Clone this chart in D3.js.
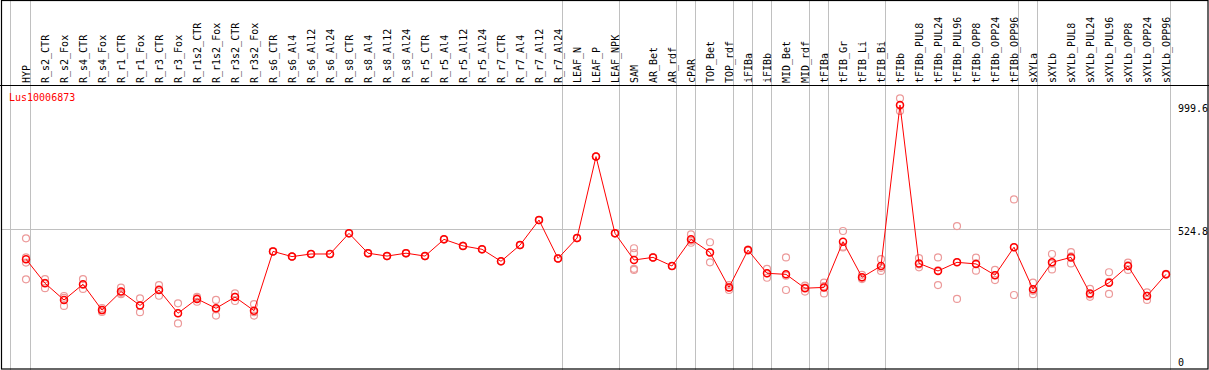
<!DOCTYPE html>
<html><head><meta charset="utf-8">
<script src="https://cdn.jsdelivr.net/npm/d3@7"></script>
<style>
html,body{margin:0;padding:0;background:#fff;}
svg{display:block;}
text{font-family:"DejaVu Sans Mono",monospace;font-size:10px;}
</style></head>
<body>
<svg id="chart" width="1209" height="370"></svg>
<script>
const title = "Lus10006873";
const categories = ["HYP","R_s2_CTR","R_s2_Fox","R_s4_CTR","R_s4_Fox","R_r1_CTR","R_r1_Fox","R_r3_CTR","R_r3_Fox","R_r1s2_CTR","R_r1s2_Fox","R_r3s2_CTR","R_r3s2_Fox","R_s6_CTR","R_s6_Al4","R_s6_Al12","R_s6_Al24","R_s8_CTR","R_s8_Al4","R_s8_Al12","R_s8_Al24","R_r5_CTR","R_r5_Al4","R_r5_Al12","R_r5_Al24","R_r7_CTR","R_r7_Al4","R_r7_Al12","R_r7_Al24","LEAF_N","LEAF_P","LEAF_NPK","SAM","AR_Bet","AR_rdf","cPAR","TOP_Bet","TOP_rdf","iFIBa","iFIBb","MID_Bet","MID_rdf","tFIBa","tFIB_Gr","tFIB_Li","tFIB_Bi","tFIBb","tFIBb_PUL8","tFIBb_PUL24","tFIBb_PUL96","tFIBb_OPP8","tFIBb_OPP24","tFIBb_OPP96","sXYLa","sXYLb","sXYLb_PUL8","sXYLb_PUL24","sXYLb_PUL96","sXYLb_OPP8","sXYLb_OPP24","sXYLb_OPP96"];
const meanValues = [409,317,253,313,214,285,232,291,202,257,221,264,212,439,419,429,429,508,432,421,432,421,485,460,447,401,463,559,412,490,802,508,406,416,383,485,435,301,444,355,351,298,301,476,340,383,999.6,393,364,397,391,348,455,294,397,416,278,319,383,268,351];
const replicates = [
 [489,416,396,332],[333,298,318],[268,230,261],[333,295,311],[222,207,214],[300,275,280],[259,206,233],[310,269,294],[240,163,202],[265,246,260],[253,193,217],[278,249,265],[237,193,206],
 [439,439,439],[419,419,419],[429,429,429],[429,429,429],[508,508,508],[432,432,432],[421,421,421],[432,432,432],[421,421,421],[485,485,485],[460,460,460],[447,447,447],[401,401,401],[463,463,463],[559,559,559],[412,412,412],
 [490,490,490],[802,802,802],[508,508,508],
 [451,432,372,368],[416,416,416],[383,383,383],[504,472,480],[474,397,435],[310,291,302],[444,446,442],[372,338,355],[416,291,346],[308,285,300],[319,278,306],[517,457,454],[349,333,338],[409,364,376],
 [1025,977,997],[413,378,389],[416,310,366],[536,257,398],[415,365,393],[368,329,348],[638,272,455],
 [319,275,288],[429,370,392],[436,393,420],[295,265,274],[359,276,322],[396,368,385],[282,253,269],[351,349,353]
];
const axisTicks = [0, 524.8, 999.6];
const groupEnds = ["HYP","R_r7_Al24","LEAF_NPK","AR_rdf","cPAR","TOP_rdf","iFIBa","iFIBb","MID_rdf","tFIBa","tFIB_Bi","tFIBb_OPP96","sXYLa","sXYLb_OPP96"];

const W = 1209, H = 370;
const svg = d3.select("#chart");
const x = d3.scalePoint().domain(categories).range([26, 1166]);
const y = d3.scaleLinear().domain([0, 999.6]).range([366, 105]);

// gridlines (vertical)
const gx = [10.5].concat(groupEnds.map(c => Math.round(x(c)) + 4.5));
svg.append("g").selectAll("line").data(gx).join("line")
  .attr("x1", d => d).attr("x2", d => d).attr("y1", 0).attr("y2", H)
  .attr("stroke", "#c0c0c0").attr("stroke-width", 1);
// horizontal gridline at middle tick
svg.append("line").attr("x1", 1).attr("x2", Math.round(x(categories[categories.length-1])) + 4.5)
  .attr("y1", Math.round(y(axisTicks[1])) + 0.5).attr("y2", Math.round(y(axisTicks[1])) + 0.5)
  .attr("stroke", "#c0c0c0").attr("stroke-width", 1);

// borders
svg.append("rect").attr("x", 1.5).attr("y", 0.5).attr("width", W - 2.5).attr("height", H - 1.5)
  .attr("fill", "none").attr("stroke", "#000").attr("stroke-width", 1.2);
svg.append("line").attr("x1", 0).attr("x2", W).attr("y1", 85.5).attr("y2", 85.5)
  .attr("stroke", "#000").attr("stroke-width", 1.2);

// category labels
svg.append("g").selectAll("text").data(categories).join("text")
  .attr("transform", d => `translate(${x(d) + 4},83) rotate(-90)`)
  .attr("text-anchor", "start").attr("fill", "#000").text(d => d);

// title
svg.append("text").attr("x", 9).attr("y", 101).attr("fill", "#ff0000").text(title);

// right axis labels
svg.append("g").selectAll("text").data(axisTicks).join("text")
  .attr("x", 1178).attr("y", d => Math.min(y(d) + 6.5, 366))
  .attr("fill", "#000").text(d => d);

// replicate points
const repData = [];
replicates.forEach((arr, i) => arr.forEach(v => repData.push({c: categories[i], v})));
svg.append("g").selectAll("circle").data(repData).join("circle")
  .attr("cx", d => x(d.c)).attr("cy", d => y(d.v)).attr("r", 3.5)
  .attr("fill", "none").attr("stroke", "#ec9a9a").attr("stroke-width", 1.2);

// line
const line = d3.line().x((d, i) => x(categories[i])).y(d => y(d));
svg.append("path").datum(meanValues).attr("d", line)
  .attr("fill", "none").attr("stroke", "#ff0000").attr("stroke-width", 1);

// mean points
svg.append("g").selectAll("circle").data(meanValues).join("circle")
  .attr("cx", (d, i) => x(categories[i])).attr("cy", d => y(d)).attr("r", 3.5)
  .attr("fill", "none").attr("stroke", "#ff0000").attr("stroke-width", 1.5);
</script>
</body></html>
